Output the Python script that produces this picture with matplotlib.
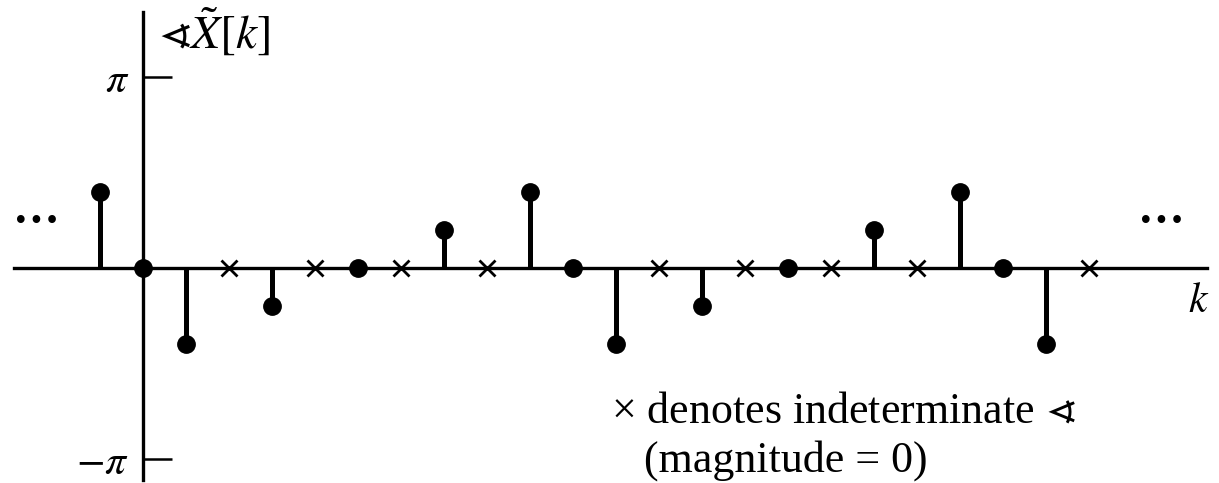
import numpy as np
import matplotlib
matplotlib.use("Agg")
import matplotlib.pyplot as plt

plt.rcParams['font.family'] = ['Liberation Serif', 'DejaVu Serif']
plt.rcParams['mathtext.fontset'] = 'stix'

# phase of X~[k] in units of pi (period 10)
k_dots = [-1, 0, 1, 3, 5, 7, 9, 10, 11, 13, 15, 17, 19, 20, 21]
phase_dots = [0.4, 0, -0.4, -0.2, 0, 0.2, 0.4, 0, -0.4, -0.2, 0, 0.2, 0.4, 0, -0.4]
# magnitude = 0 -> indeterminate phase
k_indet = [2, 4, 6, 8, 12, 14, 16, 18, 22]

ytick_vals = [-np.pi, np.pi]
ytick_labels = [r'$-\pi$', r'$\pi$']

fig = plt.figure(figsize=(12.19, 4.83), dpi=100)
ax = fig.add_axes([0, 0, 1, 1])

# pixel mapping: k=0 at x=143, 43 px per k ; phase 0 at y=268, 191 px per pi
def px(x):
    return (x - 143) / 43

def py(y):
    return (268 - y) / 191 * np.pi

ax.set_xlim(px(0), px(1219))
ax.set_ylim(py(483), py(0))

ph = np.array(phase_dots) * np.pi
ml, sl, bl = ax.stem(k_dots, ph, linefmt='k-', markerfmt='ko', basefmt=' ')
plt.setp(sl, linewidth=3.6)
plt.setp(ml, markersize=12.5)
ax.plot(k_indet, np.zeros(len(k_indet)), 'kx', markersize=12, markeredgewidth=2)

# axes through the origin
for s in ['top', 'right']:
    ax.spines[s].set_visible(False)
ax.spines['left'].set_position(('data', 0))
ax.spines['bottom'].set_position(('data', 0))
ax.spines['left'].set_bounds(py(480), py(12))
ax.spines['bottom'].set_bounds(px(14), px(1207))
ax.spines['left'].set_linewidth(2.4)
ax.spines['bottom'].set_linewidth(2.4)

ax.set_xticks([])
ax.set_yticks(ytick_vals)
ax.set_yticklabels(ytick_labels, fontsize=30)
ax.tick_params(axis='y', direction='in', length=21, width=1.8, pad=10)

renderer = fig.canvas.get_renderer()

def fit(t, width_px):
    # scale font so the text is as wide as in the reference
    w = t.get_window_extent(renderer).width
    t.set_fontsize(t.get_fontsize() * width_px / w)

lab = ax.text(px(158), py(33), r'$\sphericalangle\tilde{X}[k]$', fontsize=30,
              va='center', ha='left')
fit(lab, 112)

ax.text(px(1199), py(302), r'$k$', fontsize=30, va='center', ha='center')
for xc in [36, 1161]:
    ax.text(px(xc), py(222), '\u2022\u2022\u2022', family='DejaVu Sans',
            fontsize=19, va='center', ha='center')

note1 = ax.text(px(611), py(423), '× denotes indeterminate ' + r'$\sphericalangle$',
                fontsize=32, va='baseline', ha='left')
fit(note1, 466)
ax.text(px(644), py(472), '(magnitude = 0)', fontsize=note1.get_fontsize(),
        va='baseline', ha='left')

fig.savefig('out.png', dpi=100)
